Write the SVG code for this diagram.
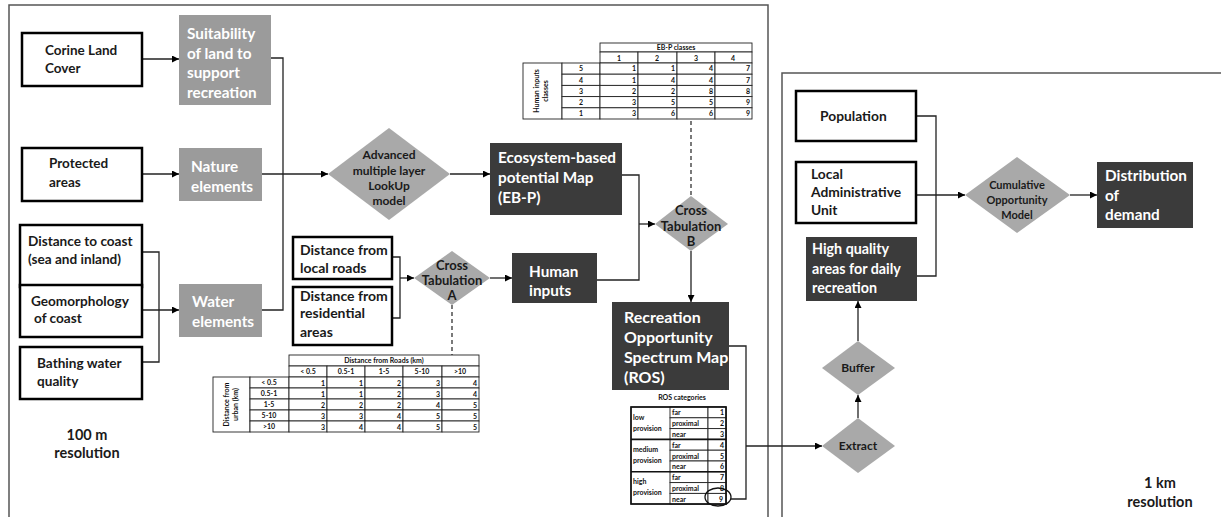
<svg xmlns="http://www.w3.org/2000/svg" width="1221" height="517" viewBox="0 0 1221 517">
<style>
.t{font-family:Lato,"Open Sans","Liberation Sans",sans-serif;font-weight:bold}
.wbox{fill:#fff;stroke:#000;stroke-width:2.5}
.gbox{fill:#9b9b9b}
.dbox{fill:#3b3b3b}
.dia{fill:#a9a9a9}
.wt{fill:#fff}
.bt{fill:#1a1a1a}
.ln{stroke:#222;stroke-width:1.3;fill:none}
.dash{stroke:#333;stroke-width:1.3;fill:none;stroke-dasharray:4 3}
.panel{fill:none;stroke:#555;stroke-width:1.5}
.cell{fill:#fff;stroke:#222;stroke-width:0.9}
.tt{font-family:Lato,"Open Sans","Liberation Sans",sans-serif;font-weight:bold;font-size:7px;fill:#111}
</style>
<defs>
<marker id="ar" viewBox="0 0 10 10" refX="10" refY="5" markerWidth="7" markerHeight="7" markerUnits="userSpaceOnUse" orient="auto">
<path d="M0,0 L10,5 L0,10 z" fill="#000"/>
</marker>
</defs>
<rect width="1221" height="517" fill="#fff"/>
<rect class="panel" x="9" y="5" width="759" height="530"/>
<rect class="panel" x="782" y="73" width="460" height="470"/>

<g id="connectors">
<path class="ln" d="M142,59 H179" marker-end="url(#ar)"/>
<path class="ln" d="M142,174 H179" marker-end="url(#ar)"/>
<path class="ln" d="M142,310 H179" marker-end="url(#ar)"/>
<path class="ln" d="M142,252 H159 V362 H142"/>
<path class="ln" d="M271,58 H283 V310 H262"/>
<path class="ln" d="M262,174 H328" marker-end="url(#ar)"/>
<path class="ln" d="M450,174 H490" marker-end="url(#ar)"/>
<path class="ln" d="M622,175 H639 V280 H597"/>
<path class="ln" d="M639,224 H655" marker-end="url(#ar)"/>
<path class="ln" d="M691,251 V302" marker-end="url(#ar)"/>
<path class="ln" d="M392,257 H400 V318 H392"/>
<path class="ln" d="M400,278 H414" marker-end="url(#ar)"/>
<path class="ln" d="M490,278 H512" marker-end="url(#ar)"/>
<path class="ln" d="M729,346 H746 V499 H731"/>
<path class="ln" d="M746,446 H822" marker-end="url(#ar)"/>
<path class="ln" d="M858,418 V395" marker-end="url(#ar)"/>
<path class="ln" d="M858,341 V301" marker-end="url(#ar)"/>
<path class="ln" d="M916,116 H936 V276 H917"/>
<path class="ln" d="M916,195 H965" marker-end="url(#ar)"/>
<path class="ln" d="M1070,195 H1097" marker-end="url(#ar)"/>
<path class="dash" d="M691,121 V196"/>
<path class="dash" d="M452,305 V355"/>
</g>

<g id="corine">
<rect class="wbox" x="22" y="33" width="120" height="53"/>
<text class="t bt" font-size="13.5" x="45" y="55">Corine Land</text>
<text class="t bt" font-size="13.5" x="45" y="73">Cover</text>
</g>
<g id="suitability">
<rect class="gbox" x="179" y="15" width="92" height="90"/>
<text class="t wt" font-size="15.3" x="187" y="38.5">Suitability</text>
<text class="t wt" font-size="15.3" x="187" y="58.5">of land to</text>
<text class="t wt" font-size="15.3" x="187" y="77.5">support</text>
<text class="t wt" font-size="15.3" x="187" y="97.5">recreation</text>
</g>
<g id="protected">
<rect class="wbox" x="22" y="148" width="120" height="53"/>
<text class="t bt" font-size="13.5" x="49" y="168">Protected</text>
<text class="t bt" font-size="13.5" x="49" y="187">areas</text>
</g>
<g id="nature">
<rect class="gbox" x="179" y="148" width="83" height="53"/>
<text class="t wt" font-size="15.3" x="191" y="171.5">Nature</text>
<text class="t wt" font-size="15.3" x="191" y="191.5">elements</text>
</g>
<g id="coast">
<rect class="wbox" x="20" y="225" width="122" height="62"/>
<text class="t bt" font-size="13.6" x="28" y="246">Distance to coast</text>
<text class="t bt" font-size="13.6" x="28" y="264">(sea and inland)</text>
</g>
<g id="geomorph">
<rect class="wbox" x="20" y="285" width="122" height="52"/>
<text class="t bt" font-size="13.6" x="31" y="306">Geomorphology</text>
<text class="t bt" font-size="13.6" x="34" y="323">of coast</text>
</g>
<g id="bathing">
<rect class="wbox" x="20" y="347" width="122" height="52"/>
<text class="t bt" font-size="13.6" x="37" y="368">Bathing water</text>
<text class="t bt" font-size="13.6" x="37" y="386">quality</text>
</g>
<g id="water">
<rect class="gbox" x="179" y="284" width="83" height="53"/>
<text class="t wt" font-size="15.3" x="192" y="306.5">Water</text>
<text class="t wt" font-size="15.3" x="192" y="326.5">elements</text>
</g>
<g id="advanced">
<polygon class="dia" points="389,128 450,174 389,220 328,174"/>
<text class="t bt" font-size="12" text-anchor="middle" x="389" y="159">Advanced</text>
<text class="t bt" font-size="12" text-anchor="middle" x="389" y="175">multiple layer</text>
<text class="t bt" font-size="12" text-anchor="middle" x="389" y="190">LookUp</text>
<text class="t bt" font-size="12" text-anchor="middle" x="389" y="205">model</text>
</g>
<g id="ebp">
<rect class="dbox" x="490" y="143" width="132" height="72"/>
<text class="t wt" font-size="15.3" x="498" y="162.5">Ecosystem-based</text>
<text class="t wt" font-size="15.3" x="498" y="182.5">potential Map</text>
<text class="t wt" font-size="15.3" x="498" y="202.5">(EB-P)</text>
</g>
<g id="roads">
<rect class="wbox" x="293" y="237" width="99" height="42"/>
<text class="t bt" font-size="14" x="300" y="255">Distance from</text>
<text class="t bt" font-size="14" x="300" y="273">local roads</text>
</g>
<g id="residential">
<rect class="wbox" x="293" y="287" width="99" height="58"/>
<text class="t bt" font-size="14" x="300" y="301">Distance from</text>
<text class="t bt" font-size="14" x="300" y="318">residential</text>
<text class="t bt" font-size="14" x="300" y="337">areas</text>
</g>
<g id="crossA">
<polygon class="dia" points="452,251 490,278 452,305 414,278"/>
<text class="t bt" font-size="13" text-anchor="middle" x="452" y="270">Cross</text>
<text class="t bt" font-size="13" text-anchor="middle" x="452" y="285">Tabulation</text>
<text class="t bt" font-size="13" text-anchor="middle" x="452" y="300">A</text>
</g>
<g id="human">
<rect class="dbox" x="512" y="253" width="85" height="50"/>
<text class="t wt" font-size="15.3" x="529" y="276.5">Human</text>
<text class="t wt" font-size="15.3" x="529" y="295.5">inputs</text>
</g>
<g id="crossB">
<polygon class="dia" points="691,196 728,224 691,251 655,224"/>
<text class="t bt" font-size="13" text-anchor="middle" x="691" y="215">Cross</text>
<text class="t bt" font-size="13" text-anchor="middle" x="691" y="231">Tabulation</text>
<text class="t bt" font-size="13" text-anchor="middle" x="691" y="246">B</text>
</g>
<g id="ros">
<rect class="dbox" x="612" y="302" width="117" height="88"/>
<text class="t wt" font-size="16" x="624" y="322.5">Recreation</text>
<text class="t wt" font-size="16" x="624" y="342.5">Opportunity</text>
<text class="t wt" font-size="16" x="624" y="362.5">Spectrum Map</text>
<text class="t wt" font-size="16" x="624" y="382.5">(ROS)</text>
</g>

<g id="ebp-table">
<rect class="cell" x="600" y="43" width="152" height="9"/>
<text class="tt" font-size="6.5" text-anchor="middle" x="676" y="50">EB-P classes</text>
<rect class="cell" x="600" y="52" width="38" height="11"/>
<rect class="cell" x="638" y="52" width="39" height="11"/>
<rect class="cell" x="677" y="52" width="38" height="11"/>
<rect class="cell" x="715" y="52" width="37" height="11"/>
<text class="tt" text-anchor="middle" x="619" y="60.5">1</text>
<text class="tt" text-anchor="middle" x="657" y="60.5">2</text>
<text class="tt" text-anchor="middle" x="696" y="60.5">3</text>
<text class="tt" text-anchor="middle" x="733" y="60.5">4</text>
<rect class="cell" x="523" y="63" width="39" height="56"/>
<text class="tt" font-size="6.5" text-anchor="middle" transform="translate(539,91) rotate(-90)">Human inputs</text>
<text class="tt" font-size="6.5" text-anchor="middle" transform="translate(548,91) rotate(-90)">classes</text>
<g>
<rect class="cell" x="562" y="63" width="38" height="11.2"/><rect class="cell" x="600" y="63" width="38" height="11.2"/><rect class="cell" x="638" y="63" width="39" height="11.2"/><rect class="cell" x="677" y="63" width="38" height="11.2"/><rect class="cell" x="715" y="63" width="37" height="11.2"/>
<rect class="cell" x="562" y="74.2" width="38" height="11.2"/><rect class="cell" x="600" y="74.2" width="38" height="11.2"/><rect class="cell" x="638" y="74.2" width="39" height="11.2"/><rect class="cell" x="677" y="74.2" width="38" height="11.2"/><rect class="cell" x="715" y="74.2" width="37" height="11.2"/>
<rect class="cell" x="562" y="85.4" width="38" height="11.2"/><rect class="cell" x="600" y="85.4" width="38" height="11.2"/><rect class="cell" x="638" y="85.4" width="39" height="11.2"/><rect class="cell" x="677" y="85.4" width="38" height="11.2"/><rect class="cell" x="715" y="85.4" width="37" height="11.2"/>
<rect class="cell" x="562" y="96.6" width="38" height="11.2"/><rect class="cell" x="600" y="96.6" width="38" height="11.2"/><rect class="cell" x="638" y="96.6" width="39" height="11.2"/><rect class="cell" x="677" y="96.6" width="38" height="11.2"/><rect class="cell" x="715" y="96.6" width="37" height="11.2"/>
<rect class="cell" x="562" y="107.8" width="38" height="11.2"/><rect class="cell" x="600" y="107.8" width="38" height="11.2"/><rect class="cell" x="638" y="107.8" width="39" height="11.2"/><rect class="cell" x="677" y="107.8" width="38" height="11.2"/><rect class="cell" x="715" y="107.8" width="37" height="11.2"/>
</g>
<g class="tt" text-anchor="middle">
<text x="581" y="71.3">5</text><text x="581" y="82.5">4</text><text x="581" y="93.7">3</text><text x="581" y="104.9">2</text><text x="581" y="116.1">1</text>
</g>
<g class="tt" text-anchor="end">
<text x="636" y="71.3">1</text><text x="675" y="71.3">1</text><text x="713" y="71.3">4</text><text x="750" y="71.3">7</text>
<text x="636" y="82.5">1</text><text x="675" y="82.5">4</text><text x="713" y="82.5">4</text><text x="750" y="82.5">7</text>
<text x="636" y="93.7">2</text><text x="675" y="93.7">2</text><text x="713" y="93.7">8</text><text x="750" y="93.7">8</text>
<text x="636" y="104.9">3</text><text x="675" y="104.9">5</text><text x="713" y="104.9">5</text><text x="750" y="104.9">9</text>
<text x="636" y="116.1">3</text><text x="675" y="116.1">6</text><text x="713" y="116.1">6</text><text x="750" y="116.1">9</text>
</g>
</g>

<g id="distance-table">
<rect class="cell" x="289" y="355" width="190" height="11"/>
<text class="tt" font-size="6.5" text-anchor="middle" x="384" y="363">Distance from Roads (km)</text>
<rect class="cell" x="289" y="366" width="38" height="11"/><rect class="cell" x="327" y="366" width="38" height="11"/><rect class="cell" x="365" y="366" width="38" height="11"/><rect class="cell" x="403" y="366" width="39" height="11"/><rect class="cell" x="442" y="366" width="37" height="11"/>
<g class="tt" font-size="6.5" text-anchor="middle">
<text x="308" y="374">&lt; 0.5</text><text x="346" y="374">0.5-1</text><text x="384" y="374">1-5</text><text x="422" y="374">5-10</text><text x="460" y="374">&gt;10</text>
</g>
<rect class="cell" x="213" y="377" width="37" height="55"/>
<text class="tt" font-size="6.5" text-anchor="middle" transform="translate(229,404.5) rotate(-90)">Distance from</text>
<text class="tt" font-size="6.5" text-anchor="middle" transform="translate(238,404.5) rotate(-90)">urban (km)</text>
<g>
<rect class="cell" x="250" y="377" width="39" height="11"/><rect class="cell" x="289" y="377" width="38" height="11"/><rect class="cell" x="327" y="377" width="38" height="11"/><rect class="cell" x="365" y="377" width="38" height="11"/><rect class="cell" x="403" y="377" width="39" height="11"/><rect class="cell" x="442" y="377" width="37" height="11"/>
<rect class="cell" x="250" y="388" width="39" height="11"/><rect class="cell" x="289" y="388" width="38" height="11"/><rect class="cell" x="327" y="388" width="38" height="11"/><rect class="cell" x="365" y="388" width="38" height="11"/><rect class="cell" x="403" y="388" width="39" height="11"/><rect class="cell" x="442" y="388" width="37" height="11"/>
<rect class="cell" x="250" y="399" width="39" height="11"/><rect class="cell" x="289" y="399" width="38" height="11"/><rect class="cell" x="327" y="399" width="38" height="11"/><rect class="cell" x="365" y="399" width="38" height="11"/><rect class="cell" x="403" y="399" width="39" height="11"/><rect class="cell" x="442" y="399" width="37" height="11"/>
<rect class="cell" x="250" y="410" width="39" height="11"/><rect class="cell" x="289" y="410" width="38" height="11"/><rect class="cell" x="327" y="410" width="38" height="11"/><rect class="cell" x="365" y="410" width="38" height="11"/><rect class="cell" x="403" y="410" width="39" height="11"/><rect class="cell" x="442" y="410" width="37" height="11"/>
<rect class="cell" x="250" y="421" width="39" height="11"/><rect class="cell" x="289" y="421" width="38" height="11"/><rect class="cell" x="327" y="421" width="38" height="11"/><rect class="cell" x="365" y="421" width="38" height="11"/><rect class="cell" x="403" y="421" width="39" height="11"/><rect class="cell" x="442" y="421" width="37" height="11"/>
</g>
<g class="tt" font-size="6.5" text-anchor="middle">
<text x="269" y="385">&lt; 0.5</text><text x="269" y="396">0.5-1</text><text x="269" y="407">1-5</text><text x="269" y="418">5-10</text><text x="269" y="429">&gt;10</text>
</g>
<g class="tt" text-anchor="end">
<text x="325" y="385.5">1</text><text x="363" y="385.5">1</text><text x="401" y="385.5">2</text><text x="440" y="385.5">3</text><text x="477" y="385.5">4</text>
<text x="325" y="396.5">1</text><text x="363" y="396.5">1</text><text x="401" y="396.5">2</text><text x="440" y="396.5">3</text><text x="477" y="396.5">4</text>
<text x="325" y="407.5">2</text><text x="363" y="407.5">2</text><text x="401" y="407.5">2</text><text x="440" y="407.5">4</text><text x="477" y="407.5">5</text>
<text x="325" y="418.5">3</text><text x="363" y="418.5">3</text><text x="401" y="418.5">4</text><text x="440" y="418.5">5</text><text x="477" y="418.5">5</text>
<text x="325" y="429.5">3</text><text x="363" y="429.5">4</text><text x="401" y="429.5">4</text><text x="440" y="429.5">5</text><text x="477" y="429.5">5</text>
</g>
</g>

<g id="ros-table">
<text class="tt" font-size="6.5" text-anchor="middle" x="682" y="400">ROS categories</text>
<rect class="cell" x="631" y="407" width="95" height="97"/>
<g>
<rect class="cell" x="670" y="407" width="38" height="10.8"/><rect class="cell" x="708" y="407" width="18" height="10.8"/>
<rect class="cell" x="670" y="417.8" width="38" height="10.8"/><rect class="cell" x="708" y="417.8" width="18" height="10.8"/>
<rect class="cell" x="670" y="428.6" width="38" height="10.8"/><rect class="cell" x="708" y="428.6" width="18" height="10.8"/>
<rect class="cell" x="670" y="439.4" width="38" height="10.8"/><rect class="cell" x="708" y="439.4" width="18" height="10.8"/>
<rect class="cell" x="670" y="450.2" width="38" height="10.8"/><rect class="cell" x="708" y="450.2" width="18" height="10.8"/>
<rect class="cell" x="670" y="461" width="38" height="10.8"/><rect class="cell" x="708" y="461" width="18" height="10.8"/>
<rect class="cell" x="670" y="471.8" width="38" height="10.8"/><rect class="cell" x="708" y="471.8" width="18" height="10.8"/>
<rect class="cell" x="670" y="482.6" width="38" height="10.8"/><rect class="cell" x="708" y="482.6" width="18" height="10.8"/>
<rect class="cell" x="670" y="493.4" width="38" height="10.6"/><rect class="cell" x="708" y="493.4" width="18" height="10.6"/>
</g>
<path d="M631,439.4 H726 M631,471.8 H726" stroke="#111" stroke-width="1.6"/>
<rect x="631" y="407" width="95" height="97" fill="none" stroke="#111" stroke-width="1.6"/>
<g class="tt" font-size="7.5">
<text x="633" y="420">low</text><text x="633" y="431">provision</text>
<text x="633" y="452">medium</text><text x="633" y="463">provision</text>
<text x="633" y="484">high</text><text x="633" y="495">provision</text>
</g>
<g class="tt" font-size="7.5">
<text x="672" y="415">far</text><text x="672" y="426">proximal</text><text x="672" y="437">near</text>
<text x="672" y="447.5">far</text><text x="672" y="458.5">proximal</text><text x="672" y="469">near</text>
<text x="672" y="480">far</text><text x="672" y="490.5">proximal</text><text x="672" y="501.5">near</text>
</g>
<g class="tt" font-size="7.5" text-anchor="end">
<text x="724" y="415">1</text><text x="724" y="426">2</text><text x="724" y="437">3</text>
<text x="724" y="447.5">4</text><text x="724" y="458.5">5</text><text x="724" y="469">6</text>
<text x="724" y="480">7</text><text x="724" y="490.5">8</text>
</g>
<text class="tt" font-size="10" text-anchor="end" x="723" y="502">9</text>
<ellipse cx="718" cy="497" rx="13" ry="9" fill="none" stroke="#111" stroke-width="1.3"/>
</g>

<g id="extract">
<polygon class="dia" points="858,418 895,446 858,473 822,446"/>
<text class="t bt" font-size="12" text-anchor="middle" x="858" y="450">Extract</text>
</g>
<g id="buffer">
<polygon class="dia" points="858,341 895,368 858,395 822,368"/>
<text class="t bt" font-size="12" text-anchor="middle" x="858" y="372">Buffer</text>
</g>
<g id="population">
<rect class="wbox" x="796" y="91" width="120" height="50"/>
<text class="t bt" font-size="13.8" x="820" y="121">Population</text>
</g>
<g id="lau">
<rect class="wbox" x="796" y="162" width="120" height="61"/>
<text class="t bt" font-size="13.8" x="811" y="179">Local</text>
<text class="t bt" font-size="13.8" x="811" y="197">Administrative</text>
<text class="t bt" font-size="13.8" x="811" y="215">Unit</text>
</g>
<g id="highquality">
<rect class="dbox" x="806" y="237" width="111" height="64"/>
<text class="t wt" font-size="14.3" x="812" y="254">High quality</text>
<text class="t wt" font-size="14.3" x="812" y="274">areas for daily</text>
<text class="t wt" font-size="14.3" x="812" y="293">recreation</text>
</g>
<g id="cumulative">
<polygon class="dia" points="1017,157 1070,195 1017,233 965,195"/>
<text class="t bt" font-size="11" text-anchor="middle" x="1017" y="189">Cumulative</text>
<text class="t bt" font-size="11" text-anchor="middle" x="1017" y="204">Opportunity</text>
<text class="t bt" font-size="11" text-anchor="middle" x="1017" y="219">Model</text>
</g>
<g id="distribution">
<rect class="dbox" x="1097" y="162" width="96" height="66"/>
<text class="t wt" font-size="15.3" x="1105" y="180.5">Distribution</text>
<text class="t wt" font-size="15.3" x="1105" y="200.5">of</text>
<text class="t wt" font-size="15.3" x="1105" y="219.5">demand</text>
</g>
<g id="labels">
<text class="t bt" font-size="14.5" text-anchor="middle" x="87" y="440">100 m</text>
<text class="t bt" font-size="14.5" text-anchor="middle" x="87" y="458">resolution</text>
<text class="t bt" font-size="14.5" text-anchor="middle" x="1160" y="488">1 km</text>
<text class="t bt" font-size="14.5" text-anchor="middle" x="1160" y="507">resolution</text>
</g>
</svg>
